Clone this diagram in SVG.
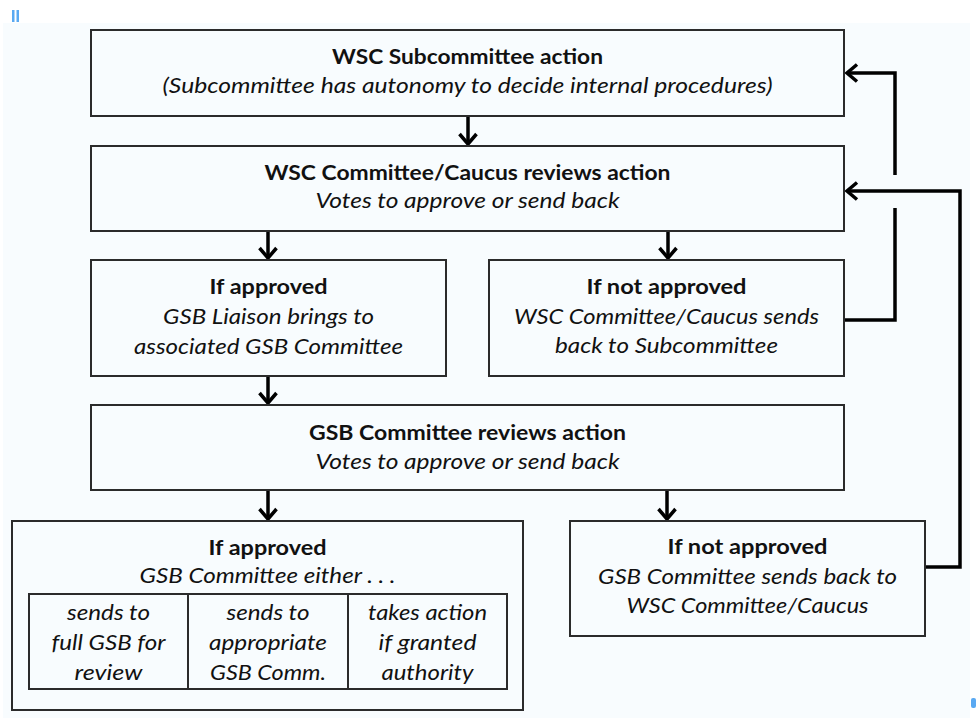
<svg xmlns="http://www.w3.org/2000/svg" width="976" height="718" viewBox="0 0 976 718">
  <defs>
    <marker id="chev" markerUnits="userSpaceOnUse" markerWidth="30" markerHeight="30" viewBox="-15 -15 30 30" refX="0" refY="0" orient="auto" overflow="visible">
      <path d="M-10,-8.5 L0,0 L-10,8.5" fill="none" stroke="#000" stroke-width="3.5" stroke-linejoin="miter"/>
    </marker>
    <style>
      .box { fill: #f8fcfe; stroke: #2b2b2b; stroke-width: 2; }
      .cell { fill: none; stroke: #2b2b2b; stroke-width: 2; }
      .conn { fill: none; stroke: #000; stroke-width: 3.5; marker-end: url(#chev); }
      .loop { fill: none; stroke: #000; stroke-width: 3.5; stroke-linejoin: miter; marker-end: url(#chev); }
      text { font-family: "Lato", "Open Sans", "Liberation Sans", sans-serif; font-size: 21px; fill: #111; text-anchor: middle; }
      .t { font-weight: bold; }
      .s { font-style: italic; }
    </style>
  </defs>

  <rect x="0" y="0" width="976" height="718" fill="#ffffff"/>
  <rect x="3" y="23" width="967" height="695" fill="#f8fcfe"/>
  <rect x="12" y="10" width="2.5" height="12" fill="#5aa9f2"/>
  <rect x="16.5" y="10" width="2.5" height="12" fill="#5aa9f2"/>
  <rect x="971" y="698" width="5" height="10" rx="2" fill="#5aa9f2"/>

  <g id="connectors">
    <line class="conn" x1="468" y1="117" x2="468" y2="144"/>
    <line class="conn" x1="268" y1="232" x2="268" y2="258"/>
    <line class="conn" x1="668" y1="232" x2="668" y2="258"/>
    <line class="conn" x1="268" y1="377" x2="268" y2="403"/>
    <line class="conn" x1="268" y1="491" x2="268" y2="519"/>
    <line class="conn" x1="667" y1="491" x2="667" y2="519"/>
    <path class="loop" d="M845,320 H895 V208 M895,175 V73 H847"/>
    <path class="loop" d="M926,567 H960 V191 H847"/>
  </g>

  <g id="wsc-subcommittee">
    <rect class="box" x="91" y="30" width="753" height="86"/>
    <text class="t" x="467.5" y="64" textLength="271" lengthAdjust="spacingAndGlyphs">WSC Subcommittee action</text>
    <text class="s" x="467.5" y="93" textLength="610" lengthAdjust="spacingAndGlyphs">(Subcommittee has autonomy to decide internal procedures)</text>
  </g>

  <g id="wsc-committee-review">
    <rect class="box" x="91" y="146" width="753" height="85"/>
    <text class="t" x="467.5" y="180" textLength="406" lengthAdjust="spacingAndGlyphs">WSC Committee/Caucus reviews action</text>
    <text class="s" x="467.5" y="208" textLength="304" lengthAdjust="spacingAndGlyphs">Votes to approve or send back</text>
  </g>

  <g id="wsc-approved">
    <rect class="box" x="91" y="260" width="355" height="116"/>
    <text class="t" x="268.5" y="294" textLength="118" lengthAdjust="spacingAndGlyphs">If approved</text>
    <text class="s" x="268.5" y="324" textLength="211" lengthAdjust="spacingAndGlyphs">GSB Liaison brings to</text>
    <text class="s" x="268.5" y="354" textLength="269" lengthAdjust="spacingAndGlyphs">associated GSB Committee</text>
  </g>

  <g id="wsc-not-approved">
    <rect class="box" x="489" y="260" width="355" height="116"/>
    <text class="t" x="666.5" y="294" textLength="160" lengthAdjust="spacingAndGlyphs">If not approved</text>
    <text class="s" x="666.5" y="324" textLength="305" lengthAdjust="spacingAndGlyphs">WSC Committee/Caucus sends</text>
    <text class="s" x="666.5" y="353" textLength="223" lengthAdjust="spacingAndGlyphs">back to Subcommittee</text>
  </g>

  <g id="gsb-committee-review">
    <rect class="box" x="91" y="405" width="753" height="85"/>
    <text class="t" x="467.5" y="440" textLength="317" lengthAdjust="spacingAndGlyphs">GSB Committee reviews action</text>
    <text class="s" x="467.5" y="469" textLength="304" lengthAdjust="spacingAndGlyphs">Votes to approve or send back</text>
  </g>

  <g id="gsb-approved">
    <rect class="box" x="12" y="521" width="511" height="189"/>
    <text class="t" x="267.5" y="555" textLength="118" lengthAdjust="spacingAndGlyphs">If approved</text>
    <text class="s" x="267.5" y="583" textLength="256" lengthAdjust="spacingAndGlyphs">GSB Committee either . . .</text>
    <rect class="cell" x="29" y="594" width="478" height="95"/>
    <line class="cell" x1="188" y1="594" x2="188" y2="689"/>
    <line class="cell" x1="348" y1="594" x2="348" y2="689"/>
    <text class="s" x="108.5" y="620" textLength="83" lengthAdjust="spacingAndGlyphs">sends to</text>
    <text class="s" x="108.5" y="650" textLength="114" lengthAdjust="spacingAndGlyphs">full GSB for</text>
    <text class="s" x="108.5" y="680" textLength="68" lengthAdjust="spacingAndGlyphs">review</text>
    <text class="s" x="268" y="620" textLength="83" lengthAdjust="spacingAndGlyphs">sends to</text>
    <text class="s" x="268" y="650" textLength="118" lengthAdjust="spacingAndGlyphs">appropriate</text>
    <text class="s" x="268" y="680" textLength="116" lengthAdjust="spacingAndGlyphs">GSB Comm.</text>
    <text class="s" x="427.5" y="620" textLength="119" lengthAdjust="spacingAndGlyphs">takes action</text>
    <text class="s" x="427.5" y="650" textLength="98" lengthAdjust="spacingAndGlyphs">if granted</text>
    <text class="s" x="427.5" y="680" textLength="92" lengthAdjust="spacingAndGlyphs">authority</text>
  </g>

  <g id="gsb-not-approved">
    <rect class="box" x="570" y="521" width="355" height="115"/>
    <text class="t" x="747.5" y="554" textLength="160" lengthAdjust="spacingAndGlyphs">If not approved</text>
    <text class="s" x="747.5" y="584" textLength="299" lengthAdjust="spacingAndGlyphs">GSB Committee sends back to</text>
    <text class="s" x="747.5" y="613" textLength="242" lengthAdjust="spacingAndGlyphs">WSC Committee/Caucus</text>
  </g>
</svg>
